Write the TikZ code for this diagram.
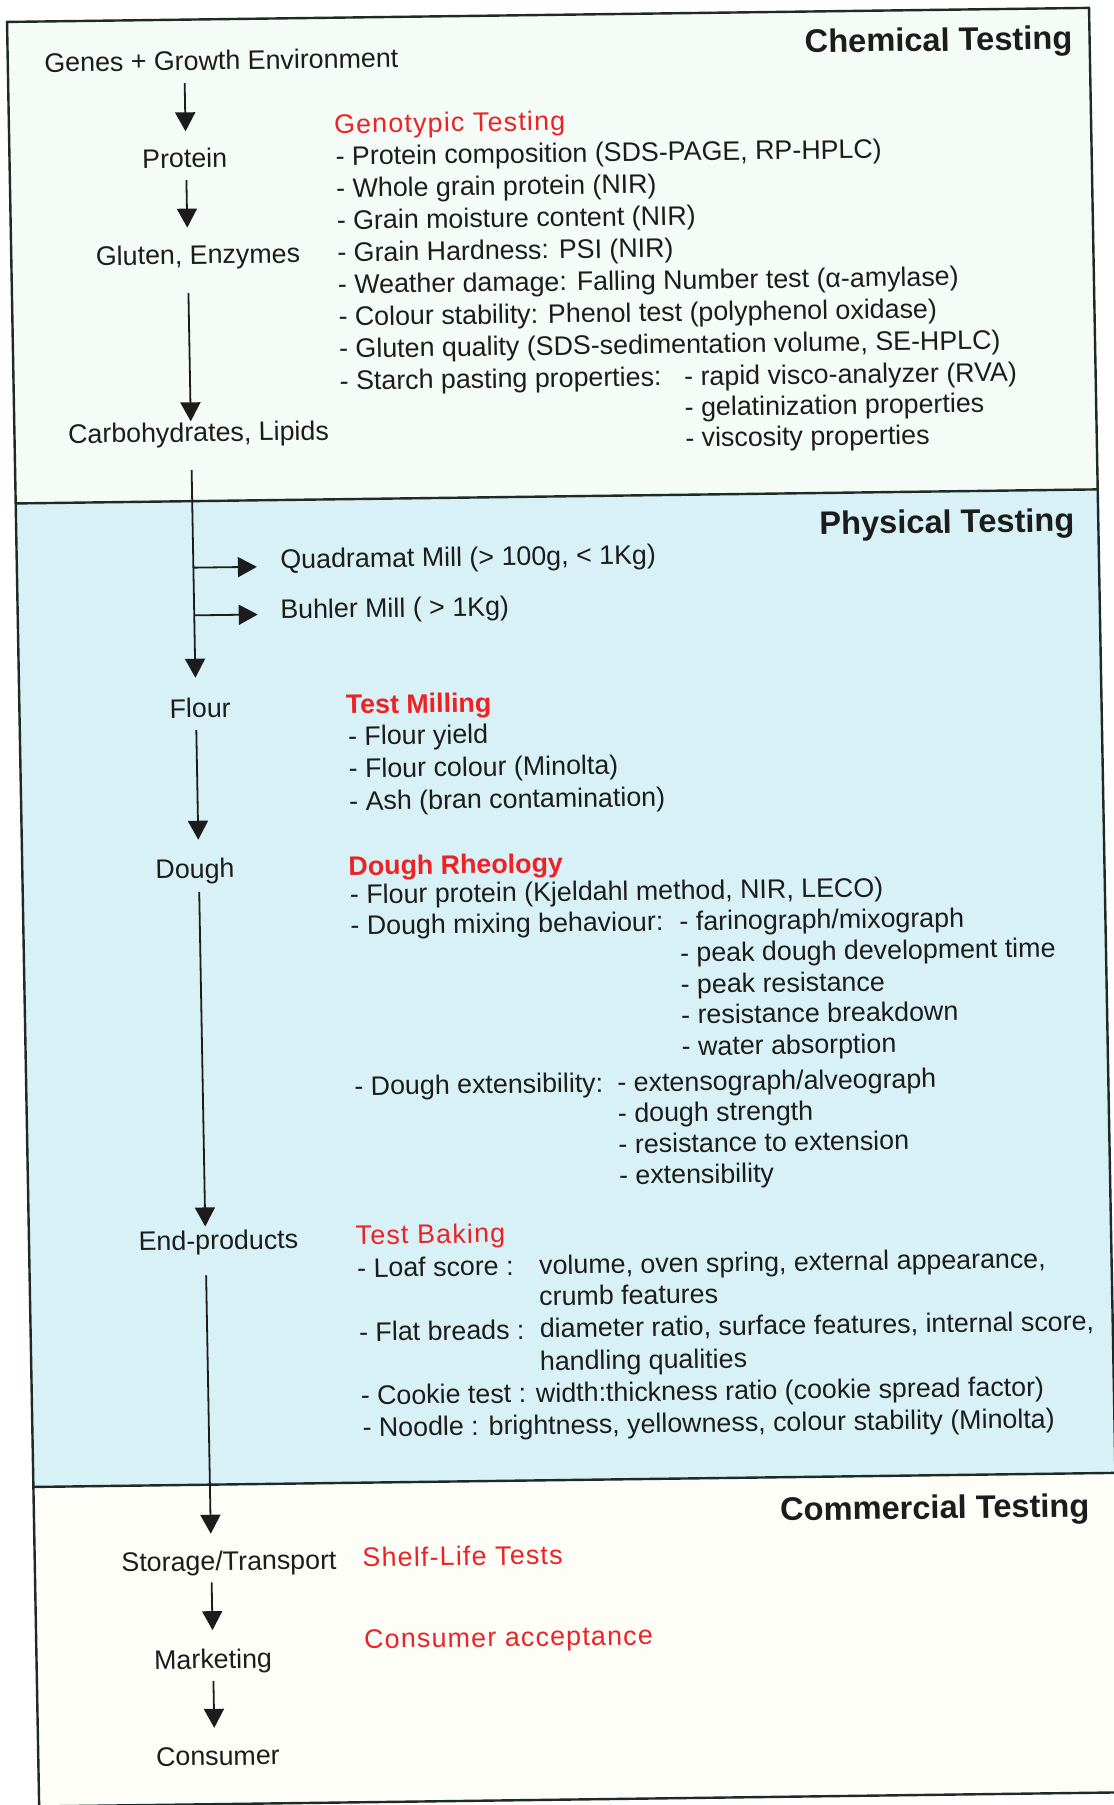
\documentclass[tikz,border=0pt]{standalone}
\usepackage{fontspec}
\setmainfont{Liberation Sans}
\usetikzlibrary{arrows.meta}
\definecolor{chembg}{RGB}{245,251,247}
\definecolor{physbg}{RGB}{216,241,247}
\definecolor{combg}{RGB}{254,254,249}
\definecolor{ink}{RGB}{28,28,28}
\definecolor{hred}{RGB}{236,34,36}
\definecolor{rulec}{RGB}{30,42,36}
\begin{document}
\begin{tikzpicture}[x=1pt,y=-1pt,
  txt/.style={anchor=west, inner sep=0pt, text=ink, font=\fontsize{26.8}{32}\selectfont, text height=24.8pt, text depth=5.6pt},
  head/.style={anchor=west, inner sep=0pt, text=ink, font=\fontsize{32.6}{37}\selectfont\bfseries, text height=28.8pt, text depth=5.4pt},
  subr/.style={anchor=west, inner sep=0pt, text=hred, font=\fontsize{26.8}{32}\selectfont\addfontfeature{LetterSpace=4.5}, text height=24.8pt, text depth=5.6pt},
  subb/.style={anchor=west, inner sep=0pt, text=hred, font=\fontsize{26.8}{32}\selectfont\bfseries, text height=24.8pt, text depth=5.6pt},
  flow/.style={draw=ink, line width=1.8pt, -{Triangle[width=20pt,length=19pt]}},
  framel/.style={draw=rulec, line width=2.4pt}
]
\useasboundingbox (0,0) rectangle (1114,1805);
\fill[white] (0,0) rectangle (1114,1805);
\clip (0,0) rectangle (1114,1805);
\begin{scope}[transform canvas={shift={(557,902)}, cm={1,0.013,-0.018,1,(0,0)}, shift={(-557,-902)}}]
% section backgrounds
\fill[chembg] (23,15) rectangle (1105,496.5);
\fill[physbg] (23,496.5) rectangle (1105,1480);
\fill[combg] (23,1480) rectangle (1105,1799.5);
\draw[framel] (23,15) rectangle (1105,1799.5);
\draw[framel] (23,496.5) -- (1105,496.5);
\draw[framel] (23,1480) -- (1105,1480);

% ---------- Chemical testing ----------
\node[head] (chemT) at (820,44.5) {Chemical Testing};
\node[txt] (genes) at (59.5,56) {Genes + Growth Environment};
\node[txt] (protein) at (155.5,153.5) {Protein};
\node[txt] (gluten) at (107.5,250) {Gluten, Enzymes};
\node[txt] (carbo) at (76.5,427.5) {Carbohydrates, Lipids};

\node[subr] (genoT) at (348,121) {Genotypic Testing};
\node[txt] (c1) at (349,153) {- Protein composition (SDS-PAGE, RP-HPLC)};
\node[txt] (c2) at (349,185.1) {- Whole grain protein (NIR)};
\node[txt] (c3) at (349,217.2) {- Grain moisture content (NIR)};
\node[txt] (c4) at (349,249.3) {- Grain Hardness: PSI (NIR)};
\node[txt] (c5) at (349,281.4) {- Weather damage: Falling Number test (α-amylase)};
\node[txt] (c6) at (349,313.5) {- Colour stability: Phenol test (polyphenol oxidase)};
\node[txt] (c7) at (349,345.6) {- Gluten quality (SDS-sedimentation volume, SE-HPLC)};
\node[txt] (c8) at (349,377.7) {- Starch pasting properties:};
\node[txt] (s1) at (693.5,377.7) {- rapid visco-analyzer (RVA)};
\node[txt] (s2) at (693.5,408.5) {- gelatinization properties};
\node[txt] (s3) at (693.5,439.3) {- viscosity properties};

% ---------- Physical testing ----------
\node[head] (physT) at (826,526.5) {Physical Testing};
\node[txt] (quad) at (286.5,555.5) {Quadramat Mill (> 100g, < 1Kg)};
\node[txt] (buhler) at (285.5,605.5) {Buhler Mill ( > 1Kg)};
\node[txt] (flour) at (173,703.5) {Flour};
\node[txt] (dough) at (156,864) {Dough};
\node[txt] (endp) at (132.5,1235.5) {End-products};

\node[subb] (testM) at (349.3,701.5) {Test Milling};
\node[txt] (m1) at (351,733) {- Flour yield};
\node[txt] (m2) at (351,765.5) {- Flour colour (Minolta)};
\node[txt] (m3) at (351,798) {- Ash (bran contamination)};

\node[subb] (doughR) at (349,863) {Dough Rheology};
\node[txt] (r1) at (350,891.5) {- Flour protein (Kjeldahl method, NIR, LECO)};
\node[txt] (r2) at (350,922.5) {- Dough mixing behaviour:};
\node[txt] (r2a) at (679,922.5) {- farinograph/mixograph};
\node[txt] (r2b) at (679,954) {- peak dough development time};
\node[txt] (r2c) at (679,985.5) {- peak resistance};
\node[txt] (r2d) at (679,1016) {- resistance breakdown};
\node[txt] (r2e) at (679,1047.5) {- water absorption};
\node[txt] (r3) at (351,1083) {- Dough extensibility:};
\node[txt] (r3a) at (614,1083) {- extensograph/alveograph};
\node[txt] (r3b) at (614,1113.5) {- dough strength};
\node[txt] (r3c) at (614,1144.5) {- resistance to extension};
\node[txt] (r3d) at (614,1175.5) {- extensibility};

\node[subr] (testB) at (349.6,1232.2) {Test Baking};
\node[txt] (b1) at (350.5,1265) {- Loaf score :};
\node[txt] (b1a) at (532.5,1264.5) {volume, oven spring, external appearance,};
\node[txt] (b1b) at (532,1295.6) {crumb features};
\node[txt] (b2) at (351.3,1329) {- Flat breads :};
\node[txt] (b2a) at (532,1327.8) {diameter ratio, surface features, internal score,};
\node[txt] (b2b) at (531.5,1360.5) {handling qualities};
\node[txt] (b3) at (351.8,1392.5) {- Cookie test : width:thickness ratio (cookie spread factor)};
\node[txt] (b4) at (353,1424.5) {- Noodle : brightness, yellowness, colour stability (Minolta)};

% ---------- Commercial testing ----------
\node[head] (comT) at (769,1511.8) {Commercial Testing};
\node[txt] (storage) at (109.5,1556.3) {Storage/Transport};
\node[subr] (shelf) at (350.6,1554.6) {Shelf-Life Tests};
\node[txt] (mkt) at (140.5,1654.3) {Marketing};
\node[subr] (consA) at (350.8,1636.1) {Consumer acceptance};
\node[txt] (cons) at (140.6,1751.1) {Consumer};

% ---------- connectors ----------
\coordinate (mx) at (199.5,0);
\draw[flow, shorten <=7pt, shorten >=11.4pt] (genes.south -| mx) -- (protein.north -| mx);
\draw[flow, shorten <=6.5pt, shorten >=11.6pt] (protein.south -| mx) -- (gluten.north -| mx);
\draw[flow, shorten <=23pt, shorten >=-4.6pt] (gluten.south -| mx) -- (carbo.north -| mx);
\draw[flow, shorten <=22.6pt, shorten >=15pt] (carbo.south -| mx) -- (flour.north -| mx);
\coordinate (bq) at (199.5,563);
\coordinate (bb) at (199.5,610.7);
\draw[flow, shorten >=23.5pt] (bq) -- (quad.west |- bq);
\draw[flow, shorten >=22.5pt] (bb) -- (buhler.west |- bb);
\draw[flow, shorten <=6.6pt, shorten >=13.5pt] (flour.south -| mx) -- (dough.north -| mx);
\draw[flow, shorten <=7.8pt, shorten >=-1.7pt] (dough.south -| mx) -- (endp.north -| mx);
\draw[flow, shorten <=19.8pt, shorten >=11.8pt] (endp.south -| mx) -- (storage.north -| mx);
\draw[flow, shorten <=5.9pt, shorten >=13.4pt] (storage.south -| mx) -- (mkt.north -| mx);
\draw[flow, shorten <=6.4pt, shorten >=12.5pt] (mkt.south -| mx) -- (cons.north -| mx);
\end{scope}
\end{tikzpicture}
\end{document}
